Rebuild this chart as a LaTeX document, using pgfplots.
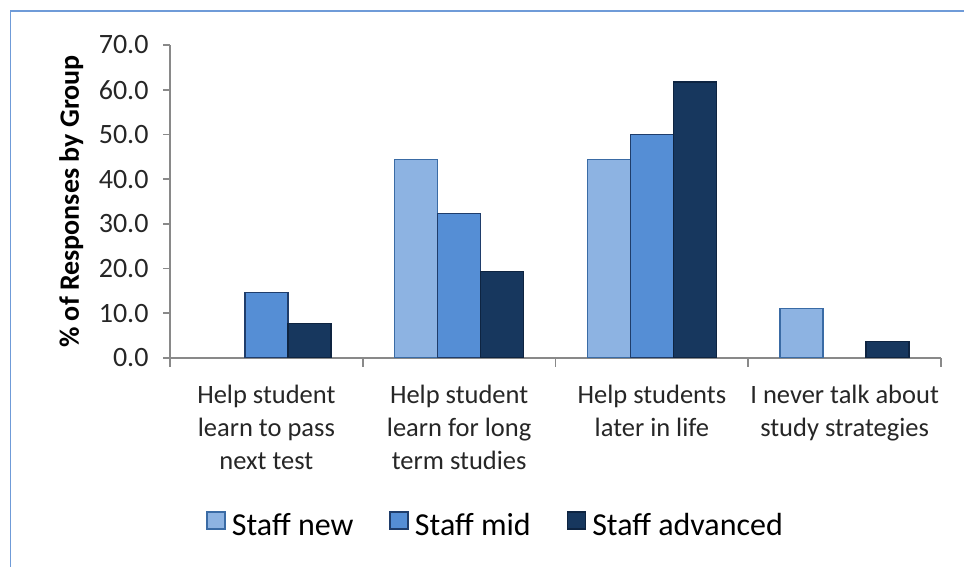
\documentclass[border=0pt]{standalone}
\usepackage{fontspec}
\setmainfont{Carlito}
\usepackage{pgfplots}
\pgfplotsset{compat=1.18}
\definecolor{cnew}{HTML}{8DB3E2}
\definecolor{enew}{HTML}{3A6BA5}
\definecolor{cmid}{HTML}{558ED5}
\definecolor{emid}{HTML}{1F3D6B}
\definecolor{cadv}{HTML}{17375E}
\definecolor{eadv}{HTML}{0E2441}
\definecolor{axgray}{HTML}{898989}
\definecolor{framec}{HTML}{6F9BD8}
\begin{document}
\begin{tikzpicture}[x=1bp,y=1bp]
\useasboundingbox (0,0) rectangle (964,567);
\draw[color=framec, line width=1.5bp] (10.5,0) -- (10.5,556) -- (964,556);
\begin{axis}[
  at={(170bp,209bp)}, anchor=south west,
  scale only axis, width=771bp, height=313bp,
  xmin=-0.5, xmax=3.5, ymin=0, ymax=70,
  axis x line*=bottom, axis y line*=left,
  axis line style={-, draw=axgray, line width=1.8bp},
  ybar=0pt, bar width=0.223,
  tick align=outside,
  major tick length=7bp, minor tick length=9bp,
  xtick={0,1,2,3},
  minor xtick={-0.5,0.5,1.5,2.5,3.5},
  xticklabels={{Help student\\learn to pass\\next test},{Help student\\learn for long\\term studies},{Help students\\later in life},{I never talk about\\study strategies}},
  x tick label style={align=center, font=\fontsize{26.5bp}{33bp}\selectfont, yshift=-17bp, text=black!85},
  major x tick style={draw=none},
  minor x tick style={draw=axgray, line width=1.8bp},
  ytick={0,10,...,70},
  y tick label style={font=\fontsize{28bp}{30bp}\selectfont, text=black!85, xshift=-11bp},
  major y tick style={draw=axgray, line width=1.8bp},
  yticklabel style={/pgf/number format/.cd, fixed, fixed zerofill, precision=1, assume math mode=true},
  ylabel={\% of Responses by Group},
  ylabel style={at={(axis description cs:-0.128,0.5)}, anchor=center, font=\fontsize{28bp}{30bp}\selectfont\bfseries},
  legend columns=3,
  legend style={at={(0.425,-0.534)}, anchor=center, draw=none, font=\fontsize{32bp}{34bp}\selectfont,
    nodes={inner xsep=6bp},
    /tikz/every even column/.append style={column sep=30bp}},
  legend image code/.code={\draw[#1, line width=1.5bp] (0bp,-4bp) rectangle (18bp,13bp);},
]
\addplot[fill=cnew, draw=enew, line width=1.5bp] coordinates {(1,44.4) (2,44.4) (3,11.1)};
\addplot[fill=cmid, draw=emid, line width=1.5bp] coordinates {(0,14.6) (1,32.3) (2,50.0)};
\addplot[fill=cadv, draw=eadv, line width=1.5bp] coordinates {(0,7.7) (1,19.3) (2,61.7) (3,3.7)};
\legend{Staff new, Staff mid, Staff advanced}
\end{axis}
\end{tikzpicture}
\end{document}
